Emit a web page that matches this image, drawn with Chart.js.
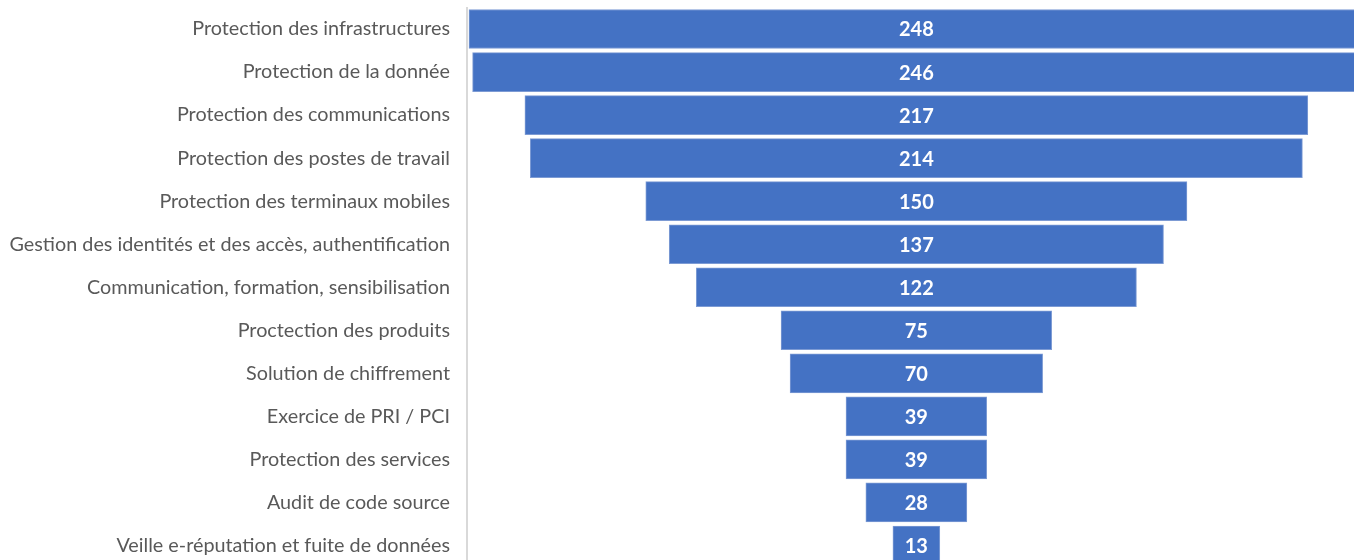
<!DOCTYPE html>
<html>
<head>
<meta charset="utf-8">
<script src="https://cdn.jsdelivr.net/npm/chart.js@4/dist/chart.umd.min.js"></script>
<style>
html,body{margin:0;padding:0;background:#fff;overflow:hidden;width:1354px;height:560px;}
canvas{display:block;}
</style>
</head>
<body>
<canvas id="c" width="1354" height="567"></canvas>
<script>
const categories = [
  "Protection des infrastructures",
  "Protection de la donnée",
  "Protection des communications",
  "Protection des postes de travail",
  "Protection des terminaux mobiles",
  "Gestion des identités et des accès, authentification",
  "Communication, formation, sensibilisation",
  "Proctection des produits",
  "Solution de chiffrement",
  "Exercice de PRI / PCI",
  "Protection des services",
  "Audit de code source",
  "Veille e-réputation et fuite de données"
];
const values = [248, 246, 217, 214, 150, 137, 122, 75, 70, 39, 39, 28, 13];

const funnelData = values.map(v => [-v / 2, v / 2]);

const valueLabels = {
  id: 'valueLabels',
  afterDatasetsDraw(chart) {
    const ctx = chart.ctx;
    const meta = chart.getDatasetMeta(0);
    ctx.save();
    ctx.font = 'bold 20px Lato, "Open Sans", sans-serif';
    ctx.fillStyle = '#ffffff';
    ctx.textAlign = 'center';
    ctx.textBaseline = 'middle';
    meta.data.forEach((el, i) => {
      const x = chart.scales.x.getPixelForValue(0);
      ctx.fillText(String(values[i]), x, el.y + 1);
    });
    ctx.restore();
  }
};

new Chart(document.getElementById('c'), {
  type: 'bar',
  data: {
    labels: categories,
    datasets: [{
      data: funnelData,
      backgroundColor: '#4472C4',
      borderColor: '#7d9bd4',
      borderWidth: 1,
      borderSkipped: false,
      barThickness: 39
    }]
  },
  options: {
    indexAxis: 'y',
    responsive: false,
    animation: false,
    layout: { padding: { top: 7.5, bottom: 0, left: 0, right: 0 } },
    plugins: { legend: { display: false }, tooltip: { enabled: false } },
    scales: {
      x: {
        display: false,
        min: -124.55,
        max: 121.3
      },
      y: {
        afterFit(scale) {
          scale.width = 467;
          scale.paddingTop = 0;
          scale.paddingBottom = 0;
        },
        grid: { display: false, drawTicks: false },
        border: { display: true, color: '#d9d9d9', width: 2 },
        ticks: {
          padding: 17,
          color: '#595959',
          font: { family: 'Lato, "Open Sans", sans-serif', size: 19.8 }
        }
      }
    }
  },
  plugins: [valueLabels]
});
</script>
</body>
</html>
